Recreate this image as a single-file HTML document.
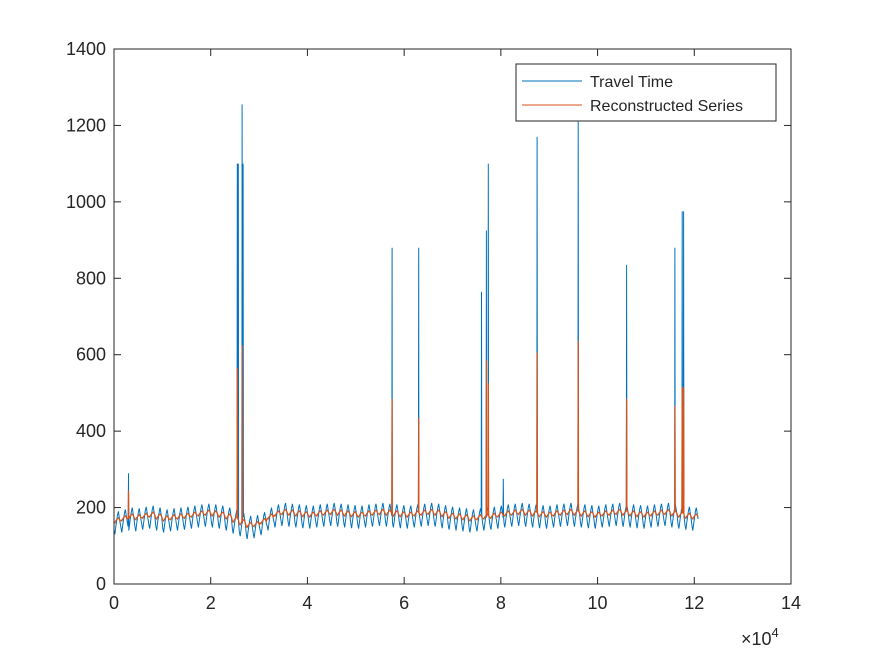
<!DOCTYPE html>
<html><head><meta charset="utf-8"><style>
body{margin:0;background:#fff;}
svg text{font-family:"Liberation Sans",Arial,sans-serif;fill:#262626;}
</style></head><body>
<svg id="chart" width="875" height="656" xmlns="http://www.w3.org/2000/svg">
<rect width="875" height="656" fill="#fff"/>
<g id="plot"></g>
<g id="axes"></g>
</svg>
<script>
const xTicks=[0,2,4,6,8,10,12,14];
const xTickLabels=["0","2","4","6","8","10","12","14"];
const yTicks=[0,200,400,600,800,1000,1200,1400];
const yTickLabels=["0","200","400","600","800","1000","1200","1400"];
// per-day base levels (travel time), one per ~1440 samples
const dayLevels=[160,165,170,168,172,175,170,165,168,170,172,175,178,180,178,175,170,162,155,148,150,158,170,178,182,180,178,176,175,178,180,182,180,178,176,175,178,180,182,180,178,176,175,178,180,182,180,176,172,170,168,165,168,170,172,175,178,180,182,180,178,176,175,178,180,182,180,178,176,175,178,180,182,180,178,176,175,178,180,182,178,175,172,170];
const dayProfile=[-18,-30,-12,5,20,30,15,0];
const reconProfile=[-3,-5,0,3,6,8,5,0];
const ttSpikeX=[3000,25500,25700,26500,26700,57500,63000,76000,77000,77400,80500,87500,96000,106000,116000,117500,117800];
const ttSpikeY=[290,1100,1100,1255,1100,880,880,765,925,1100,275,1170,1210,835,880,975,975];
const recSpikeX=[3000,25500,26500,57500,63000,77000,77400,87500,96000,106000,116000,117500,117800];
const recSpikeY=[240,560,620,480,430,580,520,600,630,480,460,510,510];

const X0=114,X1=791,Y0=584,Y1=49;
const sx=v=>X0+(v/140000)*(X1-X0);
const sy=v=>Y0-(v/1400)*(Y0-Y1);
const NS="http://www.w3.org/2000/svg";
const plot=document.getElementById('plot'),axes=document.getElementById('axes');
function mk(tag,attrs,parent){const e=document.createElementNS(NS,tag);for(const k in attrs)e.setAttribute(k,attrs[k]);parent.appendChild(e);return e;}

const dayLen=1440,xEnd=121000;
function buildSeries(profile,spX,spY){
  const pts=[];const step=dayLen/profile.length;
  for(let d=0;d<dayLevels.length;d++){
    for(let k=0;k<profile.length;k++){
      const x=d*dayLen+k*step;if(x>xEnd)break;
      pts.push([x,dayLevels[d]+profile[k]]);
    }
  }
  for(let i=0;i<spX.length;i++){
    let j=pts.findIndex(p=>p[0]>spX[i]);if(j<0)j=pts.length;
    const base=pts[Math.max(0,j-1)][1];
    pts.splice(j,0,[spX[i]-60,base],[spX[i],spY[i]],[spX[i]+60,base]);
  }
  return pts;
}
const tt=buildSeries(dayProfile,ttSpikeX,ttSpikeY);
const rec=buildSeries(reconProfile,recSpikeX,recSpikeY).map(p=>[p[0],p[1]+5]);
const p1=mk('path',{d:'M'+tt.map(p=>sx(p[0]).toFixed(1)+','+sy(p[1]).toFixed(1)).join('L'),fill:'none',stroke:'#0072BD','stroke-width':1},plot);


const p2=mk('path',{d:'M'+rec.map(p=>sx(p[0]).toFixed(1)+','+sy(p[1]).toFixed(1)).join('L'),fill:'none',stroke:'#D95319','stroke-width':1.2},plot);



const box=mk('rect',{x:X0,y:Y1,width:X1-X0,height:Y0-Y1,fill:'none',stroke:'#262626','stroke-width':1},axes);


xTicks.forEach((t,i)=>{const x=sx(t*10000);
  mk('line',{x1:x,x2:x,y1:Y0,y2:Y0-7,stroke:'#262626'},axes);
  mk('line',{x1:x,x2:x,y1:Y1,y2:Y1+7,stroke:'#262626'},axes);
  const tx=mk('text',{x:x,y:Y0+25,'text-anchor':'middle','font-size':18},axes);tx.textContent=xTickLabels[i];
  
  
});
yTicks.forEach((t,i)=>{const y=sy(t);
  mk('line',{x1:X0,x2:X0+7,y1:y,y2:y,stroke:'#262626'},axes);
  mk('line',{x1:X1,x2:X1-7,y1:y,y2:y,stroke:'#262626'},axes);
  const tx=mk('text',{x:X0-8,y:y+6,'text-anchor':'end','font-size':18},axes);tx.textContent=yTickLabels[i];
  
  
});
const ex=mk('text',{x:741,y:645,'font-size':18},axes);ex.innerHTML='×10<tspan dy="-8" font-size="13">4</tspan>';



const lg=mk('g',{},axes);


mk('rect',{x:516,y:64,width:260,height:57,fill:'#fff',stroke:'#262626'},lg);
mk('line',{x1:522,x2:582,y1:81,y2:81,stroke:'#0072BD'},lg);
mk('line',{x1:522,x2:582,y1:105,y2:105,stroke:'#D95319'},lg);
const l1=mk('text',{x:590,y:87,'font-size':16},lg);l1.textContent='Travel Time';


const l2=mk('text',{x:590,y:111,'font-size':16},lg);l2.textContent='Reconstructed Series';


</script>
</body></html>
